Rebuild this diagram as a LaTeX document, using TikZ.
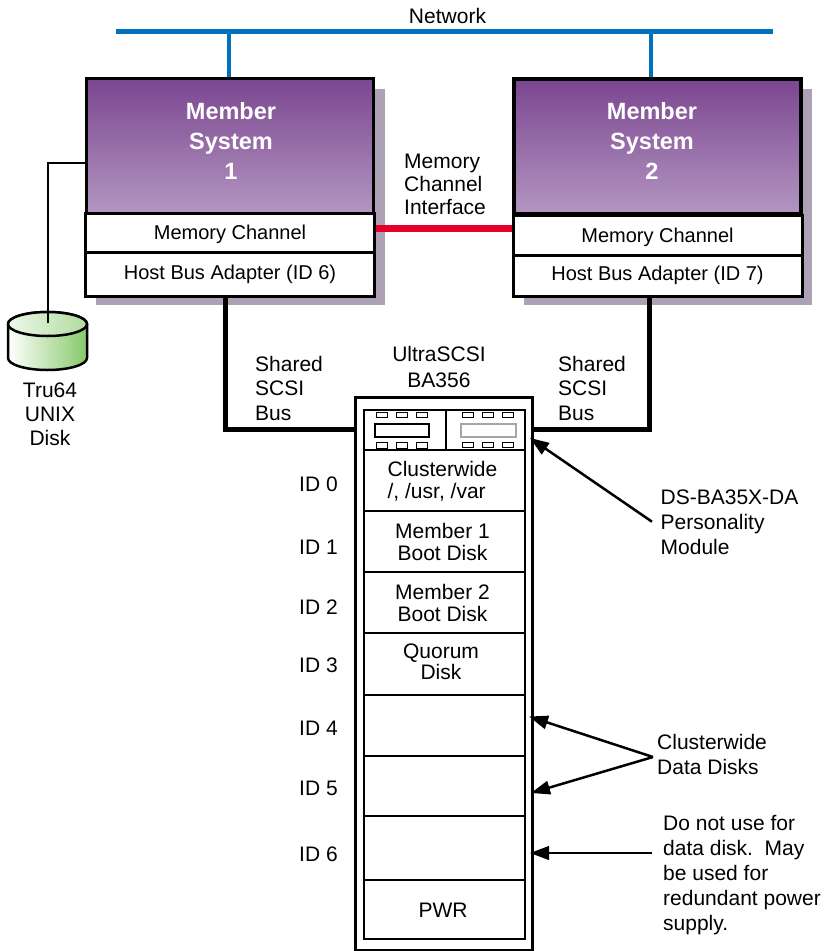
\documentclass[tikz,border=0pt]{standalone}
\usepackage{fontspec}
\setmainfont{Liberation Sans}
\usetikzlibrary{arrows.meta}
\definecolor{mynet}{HTML}{0071BC}
\definecolor{myred}{HTML}{E4002B}
\definecolor{myshadow}{HTML}{ADA1B5}
\definecolor{mytop}{HTML}{7B4690}
\definecolor{mybot}{HTML}{B396C1}
\definecolor{mygreen}{HTML}{86C96A}
\begin{document}
\begin{tikzpicture}[x=1pt,y=-1pt,
  mysys/.style={rectangle,draw,line width=3.5pt,minimum width=287pt,minimum height=135pt,inner sep=0pt,top color=mytop,bottom color=mybot},
  mycard/.style={rectangle,draw,fill=white,line width=3pt,minimum width=289pt,inner sep=0pt,font=\fontsize{20}{23}\selectfont},
  mybay/.style={rectangle,draw,fill=white,line width=1.5pt,minimum width=161pt,inner sep=0pt},
  mytxt/.style={inner sep=0pt,align=left,font=\fontsize{21}{#1}\selectfont},
  mytitle/.style={inner sep=0pt,align=center,text=white,font=\fontsize{23.5}{30}\selectfont\bfseries},
  myslot/.style={rectangle,draw,line width=1.2pt,minimum width=11pt,minimum height=5.5pt,inner sep=0pt},
  myarrow/.style={line width=2.5pt,-{Triangle[length=19pt,width=13.5pt]}}]
  \useasboundingbox (0,0) rectangle (823,951);

  % network
  \coordinate (netl) at (116,31.5);
  \coordinate (netr) at (773,31.5);
  \coordinate (net1) at (229,31.5);
  \coordinate (net2) at (651,31.5);
  \coordinate (top1) at (229,78);
  \coordinate (top2) at (651,78);
  \draw[mynet,line width=4.5pt] (netl) -- (netr);
  \draw[mynet,line width=4.5pt] (net1) -- (top1);
  \draw[mynet,line width=4.5pt] (net2) -- (top2);
  \node[mytxt=23] (network) at (447.5,16) {Network};

  % shadows
  \fill[myshadow] (96,89) rectangle (385,305);
  \fill[myshadow] (524,89) rectangle (812,305);

  \node[mycard,minimum height=39pt,text depth=0pt] (mc1) at (230,232.5) {Memory Channel};
  \node[mycard,minimum height=44pt] (hba1) at (230,274.5) {Host Bus Adapter (ID 6)};
  \node[mycard,minimum height=40pt,text depth=0pt] (mc2) at (657.5,235.5) {Memory Channel};
  \node[mycard,minimum height=41pt] (hba2) at (657.5,275.5) {Host Bus Adapter (ID 7)};

  \node[mysys] (mem1) at (230,146) {};
  \node[mysys] (mem2) at (657.5,146.5) {};
  \node[mytitle] (t1) at (231,141) {Member\\System\\1};
  \node[mytitle] (t2) at (652,141) {Member\\System\\2};

  \draw[myred,line width=7pt] (mc1.east) ++(0,4.5pt) coordinate (red1) -- (mc2.west |- red1);
  \node[mytxt=23,anchor=west] (mci) at (404,184) {Memory\\Channel\\Interface};

  % disk
  \coordinate (disktop) at (48,323);
  \path[left color=white,right color=mygreen,draw,line width=2.5pt] (8,324) -- (8,358) arc[start angle=180,end angle=0,x radius=39.5,y radius=12] -- (87,324) arc[start angle=0,end angle=-180,x radius=39.5,y radius=12];
  \draw[line width=2.5pt,left color=mygreen!15,right color=mygreen!65] (8,324) arc[start angle=180,end angle=540,x radius=39.5,y radius=12];
  \draw[line width=2.5pt] (disktop) |- ([yshift=-17pt]mem1.west);
  \node[mytxt=24,align=center] (disk) at (50,414) {Tru64\\UNIX\\Disk};

  % enclosure
  \node[rectangle,draw,line width=3pt,minimum width=177pt,minimum height=553pt,inner sep=0pt] (ba) at (443.5,673.5) {};
  \draw[line width=5pt] (hba1.south -| 225,0) coordinate (b1) |- (ba.west |- 0,429);
  \draw[line width=5pt] (hba2.south -| 649,0) coordinate (b2) |- (ba.east |- 0,429);
  \node[mytxt=26,align=center] (ultra) at (439,367) {UltraSCSI\\BA356};
  \node[mytxt=24.5,anchor=west] (bus1) at (255,388) {Shared\\SCSI\\Bus};
  \node[mytxt=24.5,anchor=west] (bus2) at (558,388) {Shared\\SCSI\\Bus};

  \node[mybay,minimum width=82pt,minimum height=40pt] (pm1) at (405,430) {};
  \node[mybay,minimum width=79pt,minimum height=40pt] (pm2) at (485.5,430) {};
  \node[myslot] (s1) at (382,415) {};
  \node[myslot] (s2) at (402,415) {};
  \node[myslot] (s3) at (422,415) {};
  \node[myslot] (s4) at (382,445.5) {};
  \node[myslot] (s5) at (402,445.5) {};
  \node[myslot] (s6) at (422,445.5) {};
  \node[myslot,minimum width=54pt,minimum height=13pt] (s7) at (402,430.5) {};
  \node[myslot] (s8) at (468,415) {};
  \node[myslot] (s9) at (488,415) {};
  \node[myslot] (s10) at (508,415) {};
  \node[myslot] (s11) at (468,445) {};
  \node[myslot] (s12) at (488,445) {};
  \node[myslot] (s13) at (508,445) {};
  \node[myslot,draw=gray!70,minimum width=55pt,minimum height=13pt] (s14) at (488.5,430.5) {};

  \node[mybay,minimum height=61pt] (bay0) at (444.5,480.5) {};
  \node[mybay,minimum height=61pt] (bay1) at (444.5,541.5) {};
  \node[mybay,minimum height=61pt] (bay2) at (444.5,602.5) {};
  \node[mybay,minimum height=62pt] (bay3) at (444.5,664) {};
  \node[mybay,minimum height=61pt] (bay4) at (444.5,725.5) {};
  \node[mybay,minimum height=60pt] (bay5) at (444.5,786) {};
  \node[mybay,minimum height=64pt] (bay6) at (444.5,848) {};
  \node[mybay,minimum height=59pt] (pwr) at (444.5,909.5) {};

  \node[mytxt=21.5] (l0) at (442.5,481) {Clusterwide\\/, /usr, /var};
  \node[mytxt=21.5,align=center] (l1) at (442.5,542) {Member 1\\Boot Disk};
  \node[mytxt=21.5,align=center] (l2) at (442.5,603) {Member 2\\Boot Disk};
  \node[mytxt=21.5,align=center] (l3) at (441,662) {Quorum\\Disk};
  \node[mytxt=23] (l7) at (443,910) {PWR};

  \node[mytxt=23] (id0) at (318.5,484) {ID 0};
  \node[mytxt=23] (id1) at (318.5,547) {ID 1};
  \node[mytxt=23] (id2) at (318.5,607) {ID 2};
  \node[mytxt=23] (id3) at (318.5,665) {ID 3};
  \node[mytxt=23] (id4) at (318.5,728) {ID 4};
  \node[mytxt=23] (id5) at (318.5,788) {ID 5};
  \node[mytxt=23] (id6) at (318.5,854) {ID 6};

  % callouts
  \node[mytxt=25,anchor=west] (dsba) at (660.5,522) {DS-BA35X-DA\\Personality\\Module};
  \node[mytxt=25,anchor=west] (cdd) at (657,754.5) {Clusterwide\\Data Disks};
  \node[mytxt=25,anchor=west] (donot) at (663,875) {Do not use for\\data disk.\ \ May\\be used for\\redundant power\\supply.};
  \coordinate (a0) at (652,521.7);
  \coordinate (t0) at (530,438);
  \coordinate (a1) at (653,757);
  \coordinate (t1a) at (529,716.5);
  \coordinate (t1b) at (531,793);
  \coordinate (a2) at (652,853);
  \coordinate (t2a) at (530,853);
  \draw[myarrow] (a0) -- (t0);
  \draw[myarrow] (a1) -- (t1a);
  \draw[myarrow] (a1) -- (t1b);
  \draw[myarrow] (a2) -- (t2a);
\end{tikzpicture}
\end{document}
